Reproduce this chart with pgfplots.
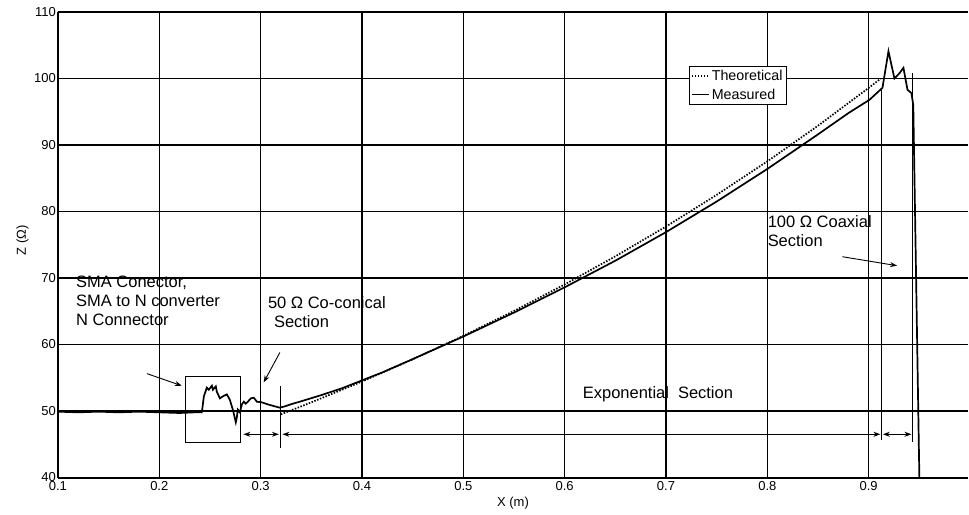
\documentclass[border=0pt]{standalone}
\usepackage{fontspec}
\setmainfont{Liberation Sans}
\usepackage{pgfplots}
\pgfplotsset{compat=1.18}
\usetikzlibrary{arrows.meta}
\begin{document}
\begin{tikzpicture}
\begin{axis}[
  scale only axis, width=911bp, height=466bp,
  xmin=0.1, xmax=0.998, ymin=40, ymax=110,
  xtick={0.1,0.2,0.3,0.4,0.5,0.6,0.7,0.8,0.9},
  ytick={40,50,60,70,80,90,100,110},
  grid=major, grid style={black, line width=1.15bp},
  axis x line=box, axis y line=left,
  axis line style={line width=2bp, -},
  y axis line style={-},
  major tick length=0pt,
  /pgf/number format/assume math mode=true,
  tick label style={font=\fontsize{13bp}{15bp}\selectfont},
  yticklabel style={inner sep=2bp},
  xlabel={X (m)}, ylabel={Z (Ω)},
  label style={font=\fontsize{13bp}{15bp}\selectfont},
  every axis y label/.style={at={(axis description cs:-0.039,0.51)}, rotate=90, anchor=center,
    font=\fontsize{13bp}{15bp}\selectfont},
  legend style={at={(0.6937,0.884)}, anchor=north west, draw=black, line width=0.8bp,
    font=\fontsize{14.3bp}{16bp}\selectfont, inner sep=1.5bp, row sep=3bp},
  legend cell align=left,
  legend image code/.code={\draw[#1] (0bp,0bp) -- (17bp,0bp);},
]
% Theoretical (exponential taper)
\addplot[black, line width=1.7bp, dash pattern=on 1.5bp off 1.5bp] coordinates {
(0.32,49.50) (0.35,51.30) (0.40,54.43) (0.45,57.77) (0.50,61.30) (0.55,65.05)
(0.60,69.03) (0.65,73.26) (0.70,77.74) (0.75,82.50) (0.80,87.54) (0.85,92.90)
(0.90,98.59) (0.912,100.0)
};
\addlegendentry{Theoretical}
% Measured
\addplot[black, line width=1.7bp] coordinates {
(0.100,49.9) (0.120,49.8) (0.140,49.9) (0.160,49.8) (0.180,49.9) (0.200,49.8)
(0.220,49.7) (0.235,49.8) (0.2420,49.8)
(0.2440,52.2) (0.2469,53.5) (0.2489,53.2) (0.2519,53.8) (0.2529,53.2) (0.2558,53.7)
(0.2568,52.9) (0.2598,51.9) (0.2627,52.2) (0.2667,52.5) (0.2696,51.7) (0.2726,50.2)
(0.2755,48.3) (0.2765,49.0) (0.2775,50.2) (0.2795,49.8) (0.2815,51.0) (0.2834,51.4)
(0.2854,51.1) (0.2874,51.4) (0.2903,51.9) (0.2933,52.0) (0.2963,51.4) (0.3012,51.3)
(0.3071,51.0) (0.3140,50.7) (0.3189,50.5) (0.3239,50.7) (0.3318,51.1) (0.3387,51.4)
(0.36,52.4) (0.38,53.4) (0.40,54.6) (0.42,55.8) (0.45,57.8) (0.50,61.2) (0.55,64.8)
(0.60,68.6) (0.65,72.6) (0.70,76.9) (0.75,81.5) (0.80,86.4) (0.85,91.6) (0.88,94.8)
(0.9008,96.8) (0.9136,98.6) (0.9195,104.1) (0.9254,100.0) (0.9304,100.8) (0.9343,101.6)
(0.9383,98.3) (0.9422,97.8) (0.9440,96.0) (0.9500,40.0)
};
\addlegendentry{Measured}
% annotation box and markers
\draw[black, line width=1.1bp] (axis cs:0.2262,45.2) rectangle (axis cs:0.2805,55.2);
\draw[black, line width=1.1bp] (axis cs:0.3195,44.5) -- (axis cs:0.3195,53.7);
\draw[black, line width=1.1bp] (axis cs:0.9126,45.7) -- (axis cs:0.9126,98.6);
\draw[black, line width=1.1bp] (axis cs:0.9432,45.4) -- (axis cs:0.9432,100.8);
\draw[black, line width=0.9bp, {Stealth[length=7bp,width=5bp]}-{Stealth[length=7bp,width=5bp]}]
  (axis cs:0.2830,46.5) -- (axis cs:0.3180,46.5);
\draw[black, line width=0.9bp, {Stealth[length=7bp,width=5bp]}-{Stealth[length=7bp,width=5bp]}]
  (axis cs:0.3215,46.5) -- (axis cs:0.9115,46.5);
\draw[black, line width=0.9bp, {Stealth[length=7bp,width=5bp]}-{Stealth[length=7bp,width=5bp]}]
  (axis cs:0.9140,46.5) -- (axis cs:0.9422,46.5);
% pointer arrows
\draw[black, line width=0.9bp, -{Stealth[length=7bp,width=5bp]}]
  (axis cs:0.1878,55.62) -- (axis cs:0.2222,53.8);
\draw[black, line width=0.9bp, -{Stealth[length=7bp,width=5bp]}]
  (axis cs:0.319,58.8) -- (axis cs:0.303,54.3);
\draw[black, line width=0.9bp, -{Stealth[length=7bp,width=5bp]}]
  (axis cs:0.874,73.2) -- (axis cs:0.928,71.85);
% texts
\node[anchor=base west, inner sep=0pt, align=left, font=\fontsize{16.5bp}{19bp}\selectfont]
  at (axis cs:0.1178,62.83) {SMA Conector,\\SMA to N converter\\N Connector};
\node[anchor=base west, inner sep=0pt, align=left, font=\fontsize{16.5bp}{19bp}\selectfont]
  at (axis cs:0.3071,62.53) {50 Ω Co-conical\\\hspace*{6bp}Section};
\node[anchor=base west, inner sep=0pt, align=left, font=\fontsize{16.5bp}{19bp}\selectfont]
  at (axis cs:0.8002,74.70) {100 Ω Coaxial\\Section};
\node[anchor=base west, inner sep=0pt, font=\fontsize{16.5bp}{19bp}\selectfont]
  at (axis cs:0.6178,51.87) {Exponential\hspace{9bp}Section};
\coordinate (BL) at (rel axis cs:0,0);
\end{axis}
\path (BL) ++(-58bp,-37bp) coordinate (bb1);
\path (BL) ++(911bp,478bp) coordinate (bb2);
\end{tikzpicture}
\end{document}
